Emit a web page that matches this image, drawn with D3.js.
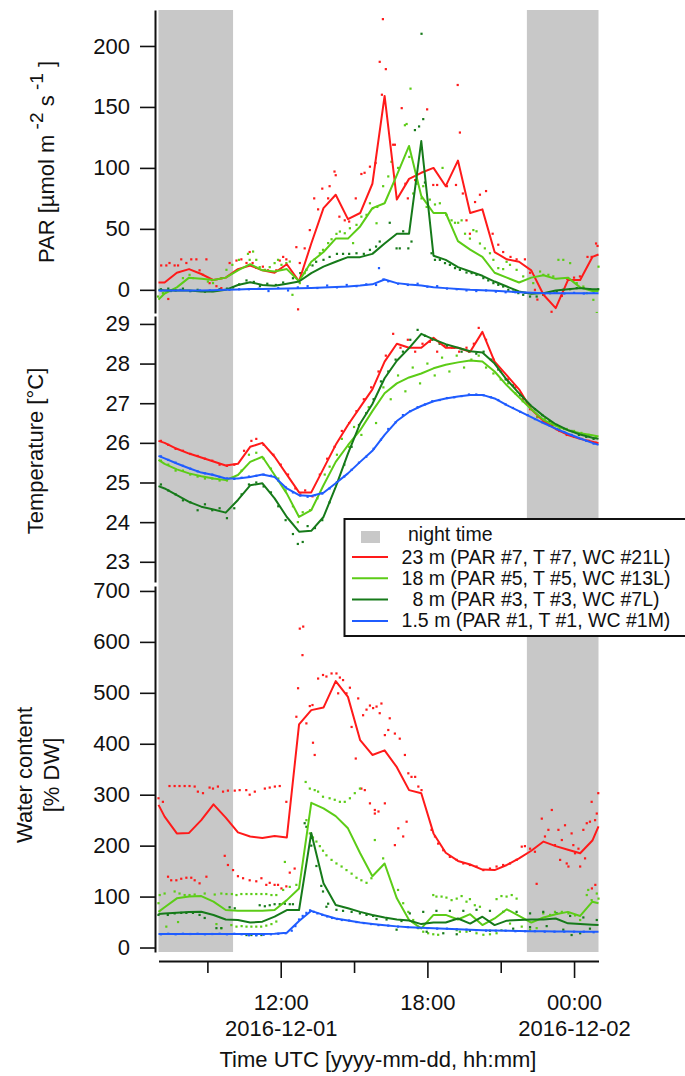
<!DOCTYPE html>
<html>
<head>
<meta charset="utf-8">
<script src="https://cdn.jsdelivr.net/npm/d3@7"></script>
<style>
  body { margin: 0; background: #fff; }
  svg text { font-family: "Liberation Sans", Arial, Helvetica, sans-serif; fill: #111; }
</style>
</head>
<body>
<svg id="chart" width="685" height="1076"></svg>
<script>
// ---------------------------------------------------------------------------
// Canopy profile, 2016-12-01 07:00 UTC to 2016-12-02 01:00 UTC.
// Times are decimal hours counted from 2016-12-01 00:00 UTC.
// Solid lines: 30-minute averages; dots: individual sensor readings.
// ---------------------------------------------------------------------------

// time stamps of the 30-minute averages (plus the window edges)
const avgHours = [7, ...d3.range(7.25, 25, 0.5), 25];

// night periods (sun below horizon), hours UTC
const nightBands = [[7, 10.05], [22.07, 25]];

const seriesLabels = [
  "23 m (PAR #7, T #7, WC #21L)",
  "18 m (PAR #5, T #5, WC #13L)",
  "8 m (PAR #3, T #3, WC #7L)",
  "1.5 m (PAR #1, T #1, WC #1M)"
];
const nightLabel = "night time";

// ---- PAR [µmol m-2 s-1] ----------------------------------------------------
const parTicks = [0, 50, 100, 150, 200];
const par23  = [6, 6,14,17,13,8,10,17,20,16,14,21,7, 38,67,78,58,63,87,159,74,91,96, 100,85,106,63,66,31,25,23,16,-4,-15,8,8,27, 29];
const par18  = [-8, -3,2,10,9,8,10,16,21,16,15,17,7, 23,31,42,42,52,67,71,94,118,77, 63,63,40,33,27,14,10,6,10,12,9,10,2,-1, -1];
const par8   = [0, -0.5,-0.5,-0.5,-1.4,-1.4,0,4,6.3,4,3.3,5,6.8, 13.7,19,23,26.8,26.8,29.5,38,46,46,122, 28,24.6,18.6,15,11.5,6.8,2.7,-1.4,-3.3,-2.7,-0.5,0.5,1.4,0.5, 0.5];
const par1_5 = [-0.5, -0.5,-0.5,-0.5,-0.5,-0.3,0,0.3,0.6,0.6,0.8,1,1.2, 1.6,2,2.4,2.8,3.5,4.5,8.5,5.5,4.3,3.5, 2.2,1.4,0.7,0,-0.4,-0.8,-1.3,-1.9,-2.3,-2.7,-2.7,-2.7,-2.7,-2.7, -2.7];

const par23Raw = [[7.11,20],[7.32,20],[7.4,-7.5],[7.45,22],[7.66,20],[7.8,20],[7.93,25],[8.14,22],[8.34,25],[8.55,25],[8.68,16],[8.96,25],[9.09,5.5],[9.2,8],[9.37,3],[9.57,1.4],[9.91,22],[10.19,24],[10.39,25],[10.6,22],[10.73,31],[10.85,22],[11.0,18],[11.27,19],[11.48,16],[11.82,16],[11.96,24],[12.1,27],[12.23,25],[12.64,35],[12.71,-16],[12.78,22],[12.98,34],[13.19,49],[13.37,75],[13.53,66],[13.7,83],[13.94,75],[14.0,85],[14.2,97],[14.25,94],[14.4,60],[14.62,57],[14.8,56],[15.07,75],[15.3,95],[15.43,96],[15.65,101],[15.88,104],[16.05,187],[16.14,160],[16.18,222],[16.3,181],[16.6,119],[16.67,119],[16.95,149],[17.1,87],[17.2,75],[17.5,90],[17.99,148],[18.24,86],[18.4,86],[18.8,85],[19.17,86],[19.24,168],[19.33,129],[19.45,79],[19.6,57],[19.74,46],[19.95,72],[20.15,78],[20.4,81],[20.67,46],[20.9,37],[21.1,31],[21.4,27],[21.65,25],[21.99,25],[22.2,14],[22.4,0],[22.5,-8],[22.74,-3],[23.08,-18],[23.5,-5],[23.72,9],[24.0,10],[24.24,11],[24.55,27],[24.72,27],[24.9,38],[24.96,36]];
const par18Raw = [[6.98,-5.5],[7.18,-2.7],[8.0,9.6],[8.27,12.3],[8.41,9.6],[8.82,12.3],[9.02,6.8],[9.23,5.5],[9.57,9.6],[9.78,16.4],[10.02,20.5],[10.29,24.6],[10.66,29.5],[10.73,24.6],[10.87,31.4],[11.0,24.6],[11.14,18.6],[11.35,16.4],[11.55,18.6],[11.75,21.9],[11.89,24.6],[12.03,20.5],[12.23,21.9],[12.37,23.2],[12.48,-4.1],[12.78,5.5],[12.98,13.7],[13.19,20.5],[13.39,25],[13.6,30],[13.73,32.8],[13.94,38.3],[14.08,41.5],[14.28,45.9],[14.42,47.8],[14.62,46.4],[14.83,50.5],[14.96,38.3],[15.1,53.3],[15.3,60],[15.51,61.5],[15.65,71],[15.78,67],[15.92,54.6],[15.95,68],[16.19,85],[16.4,93],[16.53,105],[16.8,100],[17.08,135],[17.15,136],[17.31,165],[17.26,109],[17.42,79],[17.56,87],[17.76,75],[17.83,85],[17.97,68],[18.1,74],[18.31,70],[18.51,71],[18.62,100],[18.78,61.5],[18.99,57],[19.13,55],[19.26,55],[19.4,57],[19.54,46],[19.74,42],[19.88,49],[20.01,48],[20.15,38],[20.35,34],[20.56,30],[20.7,24.6],[20.9,17.8],[21.1,17],[21.24,23],[21.38,20.5],[21.65,16.4],[21.92,11],[22.33,5.5],[22.61,15],[22.74,12.3],[22.95,12.3],[23.15,11],[23.36,24.6],[23.56,24.6],[23.84,21.9],[24.11,5.5],[24.38,2.7],[24.52,-2.7],[24.79,-8.2],[24.93,-19],[25.0,19]];
const par8Raw = [[7.1,0.5],[7.4,1],[7.7,-0.5],[8.0,1],[8.3,-1],[8.6,0],[8.9,-1.5],[9.2,-1],[9.5,0.5],[9.8,1],[10.05,2],[10.3,4.5],[10.6,7.7],[10.9,6.5],[11.15,3],[11.45,5],[11.8,4],[12.1,6],[12.5,9.5],[12.8,13.7],[13.05,16.4],[13.3,20],[13.45,23],[13.75,24.6],[14.0,27],[14.3,29.5],[14.55,29.5],[14.8,29.5],[15.1,30],[15.4,29.5],[15.65,32.8],[15.9,35.5],[16.05,39.6],[16.46,55],[16.74,34],[16.87,34],[17.01,48],[17.22,34],[17.35,39.6],[17.49,131],[17.66,134],[17.76,210],[17.83,140],[17.9,88],[18.17,30],[18.31,24.6],[18.51,24.6],[18.72,21.9],[18.92,20.5],[19.13,17.8],[19.33,16.4],[19.6,14.2],[19.81,13.7],[20.01,12.3],[20.29,9.6],[20.49,7.7],[20.7,5.5],[20.9,4.1],[21.1,2.7],[21.31,0],[21.51,-1.4],[21.72,-2.7],[21.92,-4.1],[22.2,-5.5],[22.47,-5.5],[22.74,-4.1],[23.02,-2.7],[23.29,-1.4],[23.56,0],[23.84,0.5],[24.11,1.4],[24.38,1.4],[24.65,0.5],[24.99,0.5]];
const par1_5Raw = [[7.1,-0.5],[7.5,-1],[7.9,0],[8.3,-1],[8.7,-0.5],[9.1,-0.5],[9.5,0],[9.9,0],[10.3,0.5],[10.7,0.5],[11.1,1],[11.5,-1],[11.9,1.5],[12.3,-0.5],[12.7,2],[13.1,3],[13.5,1.5],[13.9,3.5],[14.3,2],[14.7,4],[15.1,3],[15.5,4.5],[15.9,4],[16.02,17.8],[16.2,8.5],[16.4,7],[16.8,5],[17.2,4],[17.6,5],[18.0,2.5],[18.4,3],[18.8,1],[19.2,0.5],[19.6,-0.5],[20.0,-1],[20.4,-0.5],[20.8,-1.5],[21.2,-2],[21.6,-2],[22.0,-2.5],[22.4,-2.5],[22.8,-3],[23.2,-2.5],[23.6,-3],[24.0,-2.5],[24.4,-3],[24.8,-2.5]];

// ---- Temperature [°C] ------------------------------------------------------
const tTicks = [23, 24, 25, 26, 27, 28, 29];
const t23  = [26.05, 26.0,25.85,25.73,25.63,25.53,25.43,25.47,25.9,26.0,25.65,25.2,24.75, 24.75,25.35,25.95,26.45,26.9,27.35,28.05,28.5,28.4,28.4, 28.65,28.4,28.4,28.3,28.8,28.05,27.7,27.35,26.85,26.55,26.35,26.2,26.1,26.03, 25.99];
const t18  = [25.57, 25.47,25.33,25.23,25.16,25.1,25.06,25.19,25.52,25.65,25.19,24.72,24.13, 24.3,24.93,25.52,25.94,26.32,26.8,27.25,27.5,27.65,27.75, 27.88,27.97,28.03,28.08,28.05,27.8,27.45,27.15,26.85,26.58,26.43,26.32,26.24,26.19, 26.16];
const t8   = [24.91, 24.85,24.68,24.51,24.39,24.32,24.24,24.56,24.93,24.98,24.6,24.13,23.76, 23.78,24.13,24.89,25.73,26.49,26.98,27.63,28.07,28.39,28.75, 28.61,28.49,28.4,28.31,28.28,28.0,27.59,27.25,26.93,26.68,26.47,26.32,26.21,26.13, 26.1];
const t1_5 = [25.67, 25.61,25.48,25.36,25.25,25.19,25.1,25.1,25.14,25.2,25.14,24.85,24.68, 24.66,24.74,24.98,25.23,25.52,25.8,26.2,26.55,26.78,26.93, 27.05,27.12,27.17,27.21,27.21,27.12,26.95,26.8,26.65,26.5,26.36,26.23,26.11,26.0, 25.95];

const t23Raw = [[7.1,26.05],[7.4,25.95],[7.7,25.85],[8.0,25.8],[8.3,25.72],[8.6,25.67],[8.9,25.6],[9.2,25.55],[9.5,25.45],[9.8,25.42],[10.1,25.45],[10.5,25.8],[10.8,26.05],[11.0,26.1],[11.3,25.95],[11.7,25.7],[12.0,25.45],[12.3,25.2],[12.6,24.85],[12.8,24.7],[13.0,24.8],[13.3,24.65],[13.6,25.2],[13.9,25.6],[14.2,25.9],[14.5,26.3],[14.8,26.5],[15.1,26.8],[15.4,27.1],[15.7,27.4],[16.0,27.8],[16.3,28.2],[16.6,28.75],[16.9,28.4],[17.2,28.6],[17.5,28.3],[17.8,28.5],[18.1,28.55],[18.4,28.3],[18.7,28.45],[19.0,28.4],[19.3,28.3],[19.6,28.4],[19.9,28.5],[20.1,28.9],[20.4,28.6],[20.7,28.1],[21.0,27.8],[21.3,27.6],[21.6,27.4],[21.9,27.1],[22.2,26.85],[22.5,26.65],[22.8,26.5],[23.1,26.45],[23.4,26.3],[23.7,26.2],[24.0,26.15],[24.3,26.1],[24.6,26.05],[24.9,26.0]];
const t18Raw = [[7.1,25.55],[7.4,25.45],[7.7,25.3],[8.0,25.3],[8.3,25.2],[8.6,25.15],[8.9,25.1],[9.2,25.1],[9.5,25.05],[9.8,25.05],[10.1,25.1],[10.4,25.3],[10.7,25.7],[11.0,25.75],[11.3,25.6],[11.6,25.35],[11.9,25.1],[12.2,24.8],[12.5,24.4],[12.7,24.0],[12.9,24.25],[13.2,24.3],[13.5,24.6],[13.8,25.2],[14.0,25.4],[14.3,25.7],[14.5,26.1],[14.8,25.9],[15.0,26.4],[15.3,26.2],[15.6,26.9],[15.9,26.5],[16.2,27.4],[16.5,27.1],[16.8,27.7],[17.1,27.3],[17.4,27.9],[17.7,27.5],[18.0,28.0],[18.3,27.7],[18.6,28.15],[18.9,27.8],[19.2,28.2],[19.5,27.9],[19.8,28.1],[20.1,28.2],[20.4,27.9],[20.7,27.75],[21.0,27.6],[21.3,27.5],[21.6,27.25],[21.9,27.05],[22.2,26.95],[22.5,26.65],[22.8,26.6],[23.1,26.5],[23.4,26.35],[23.7,26.35],[24.0,26.3],[24.3,26.25],[24.6,26.2],[24.9,26.15]];
const t8Raw = [[7.1,24.95],[7.4,24.8],[7.7,24.7],[8.0,24.55],[8.3,24.5],[8.6,24.3],[8.9,24.45],[9.2,24.3],[9.5,24.35],[9.8,24.1],[10.1,24.35],[10.4,24.7],[10.7,24.95],[11.0,25.0],[11.3,24.9],[11.6,24.75],[11.9,24.4],[12.2,24.05],[12.5,23.7],[12.7,23.45],[12.9,23.5],[13.1,23.9],[13.4,23.85],[13.7,24.05],[14.0,24.5],[14.3,25.0],[14.6,25.45],[14.9,25.9],[15.2,26.45],[15.5,26.75],[15.8,27.1],[16.1,27.55],[16.4,27.8],[16.7,28.1],[17.0,28.3],[17.3,28.6],[17.6,28.85],[17.9,28.7],[18.2,28.6],[18.5,28.5],[18.8,28.45],[19.1,28.4],[19.4,28.3],[19.7,28.3],[20.0,28.25],[20.3,28.3],[20.6,28.1],[20.9,27.85],[21.2,27.6],[21.5,27.45],[21.8,27.2],[22.1,27.0],[22.4,26.85],[22.7,26.7],[23.0,26.55],[23.3,26.45],[23.6,26.35],[23.9,26.3],[24.2,26.2],[24.5,26.15],[24.8,26.1]];
const t1_5Raw = [[7.1,25.66],[7.4,25.57],[7.7,25.5],[8.0,25.42],[8.3,25.35],[8.6,25.28],[8.9,25.23],[9.2,25.2],[9.5,25.14],[9.8,25.1],[10.1,25.09],[10.4,25.12],[10.7,25.15],[11.0,25.17],[11.3,25.2],[11.6,25.17],[11.9,25.05],[12.2,24.88],[12.5,24.75],[12.8,24.67],[13.1,24.64],[13.4,24.68],[13.7,24.72],[14.0,24.85],[14.3,25.0],[14.6,25.15],[14.9,25.32],[15.2,25.5],[15.5,25.65],[15.8,25.85],[16.1,26.08],[16.4,26.35],[16.7,26.52],[17.0,26.7],[17.3,26.8],[17.6,26.9],[17.9,26.97],[18.2,27.05],[18.5,27.08],[18.8,27.13],[19.1,27.15],[19.4,27.18],[19.7,27.22],[20.0,27.22],[20.3,27.2],[20.6,27.15],[20.9,27.08],[21.2,26.97],[21.5,26.88],[21.8,26.78],[22.1,26.7],[22.4,26.6],[22.7,26.52],[23.0,26.44],[23.3,26.35],[23.6,26.27],[23.9,26.2],[24.2,26.12],[24.5,26.05],[24.8,25.98]];

// ---- Water content [% DW] --------------------------------------------------
const wcTicks = [0, 100, 200, 300, 400, 500, 600, 700];
const wc23  = [280, 257,224,225,250,281,255,226,218,215,219,216,438, 466,471,523,492,407,378,387,354,309,303, 224,186,170,163,153,152,162,175,190,208,199,192,185,210, 238];
const wc18  = [70, 79,96.5,100,101,90,73.6,72,72,72,73.6,93,116, 284,273,258,234,185,140,165,96.5,54,37.6, 64,64,55,65.4,44,57,75,62,49,59,65.4,70,62,90, 87];
const wc8   = [65.8, 67,68.4,69.7,70.3,63.8,55,54,49,50.7,60.5,73.6,73.6, 225,126,83.4,77,70,64,59,55,53,46, 49,49,57,47,60.5,44,52.7,54,55,55,57,47.4,46,44.8, 44];
const wc1_5 = [26.5, 26.5,26.5,26.5,26.5,26.5,26.5,26.5,26.5,26.5,27,29,52, 72,64,57,53,49,46,43.5,41.5,40,39, 38,37,36,35,34,33.5,33,32.5,32,32,31.5,31.5,31,31, 31];

const wc23Raw = [[7.0,293],[7.18,286],[7.45,317],[7.66,317],[7.86,317],[8.07,317],[8.27,317],[8.48,316],[8.61,306],[8.82,303],[9.09,314],[9.23,312],[9.43,316],[9.64,306],[9.84,308],[10.12,308],[10.32,309],[10.59,309],[10.73,300],[10.94,306],[11.35,312],[11.55,314],[11.76,316],[11.96,317],[12.23,286],
  [7.39,139],[7.52,132],[7.73,132],[7.93,135],[8.14,137],[8.34,137],[8.48,132],[8.68,126],[8.96,139],[9.71,180],[9.84,162],[10.05,152],[10.25,140],[10.46,136],[10.73,132],[11.0,130],[11.21,136],[11.41,123],[11.55,127],[11.75,123],[11.89,123],[12.03,116],[12.23,120],[12.37,147],[12.57,155],
  [12.64,453],[12.71,509],[12.78,626],[12.92,630],[12.89,574],[13.05,440],[13.19,474],[13.3,476],[13.32,402],[13.39,378],[13.53,528],[13.73,535],[13.87,532],[14.08,538],[14.28,538],[14.42,530],[14.55,525],[14.35,499],[14.69,499],[14.83,510],[14.9,433],[15.07,371],[15.17,489],[15.37,456],[15.51,467],[15.65,475],[15.78,470],[15.92,473],[16.05,460],[15.3,312],[15.44,309],[15.65,283],[15.85,270],[16.0,267],
  [16.12,479],[16.26,417],[16.4,427],[16.46,450],[16.67,420],[16.87,410],[17.08,378],[17.22,342],[17.35,335],[17.5,335],[17.63,316],[17.76,309],[15.85,263],[16.26,283],[16.81,234],[17.01,218],[17.15,247],[16.67,201],[18.17,231],[18.31,218],[18.44,204],[18.65,191],[18.92,178],[19.2,172],[19.47,165],[19.74,162],[20.01,159],[20.29,152],[20.56,155],[20.83,159],[21.1,162],[21.38,165],[21.65,172],[21.86,198],[21.99,199],[22.2,194],[22.4,188],[22.47,125],[22.68,253],[22.81,218],[22.95,231],[23.09,270],[23.22,201],[23.36,231],[23.43,172],[23.5,211],[23.63,240],[23.7,165],[23.77,159],[23.9,224],[23.97,201],[24.04,185],[24.18,194],[24.25,159],[24.38,231],[24.45,175],[24.52,244],[24.65,247],[24.72,286],[24.86,250],[24.93,263],[24.99,303],[24.73,116],[24.87,123]];
const wc18Raw = [[7.0,87],[7.05,103],[7.25,106],[7.66,110],[7.86,106],[8.07,103],[8.27,103],[8.48,104],[8.89,106],[9.3,104],[9.57,106],[9.78,105],[10.0,105],[10.19,103],[10.39,105],[10.6,105],[10.8,105],[11.0,105],[11.21,105],[11.41,105],[11.62,103],[11.82,103],[12.1,113],[12.17,168],[12.37,119],[12.64,123],
  [7.32,41],[7.8,50],[9.37,46],[9.57,38],[9.98,44],[10.19,41],[10.4,42],[10.6,41],[10.8,41],[11.0,41],[11.2,41],[11.41,43],[11.62,46],[11.82,51],
  [13.02,325],[13.05,250],[13.19,312],[13.39,309],[13.53,306],[13.73,296],[14.0,293],[14.21,290],[14.42,286],[14.62,286],[14.83,293],[15.03,303],[15.24,312],[13.19,224],[13.32,216],[13.46,208],[13.6,199],[13.73,190],[13.87,181],[14.08,172],[14.28,165],[14.49,159],[14.69,152],[14.9,145],[15.1,137],[15.3,132],[15.51,127],[15.71,136],[15.85,211],[16.19,175],[16.8,113],[17.01,87],[17.22,70],[17.42,54],[17.63,38],[17.83,31],[18.03,28],[18.24,26],[18.44,25],[18.24,103],[18.37,100],[18.58,100],[18.78,98],[18.99,93],[19.2,96],[19.4,101],[19.6,90],[19.74,95],[19.94,83],[20.15,80],[19.2,34],[19.33,31],[19.6,31],[20.01,28],[20.29,25],[20.56,26],[20.83,28],[21.03,34],[20.83,95],[21.03,101],[21.24,100],[21.45,103],[21.65,96],[21.38,47],[21.86,41],[22.2,35],[22.47,38],[22.74,67],[23.02,64],[23.22,70],[23.5,70],[23.77,67],[24.04,63],[24.25,54],[24.52,103],[24.58,113],[24.72,93],[24.93,106],[25.0,96]];
const wc8Raw = [[7.0,64],[7.38,64],[7.66,67],[7.93,68],[8.14,68],[8.41,68],[8.68,64],[8.89,58],[9.37,38],[9.57,38],[9.91,79],[10.12,77],[10.6,24.5],[10.8,24.5],[11.0,24.5],[11.21,24.5],[11.14,83],[11.35,81],[11.55,83],[11.75,85],[11.96,85],[12.17,86],[12.37,85],[12.5,85],[12.98,244],[13.05,237],[13.25,200],[13.46,160],[13.66,121],[13.73,110],[13.87,80],[13.94,86],[14.28,74],[14.55,72],[14.9,70],[15.24,67],[15.51,64],[15.78,62],[15.92,56],[16.33,55],[16.94,52],[17.28,67],[17.83,70],[18.37,72],[18.92,72],[19.47,72],[20.01,74],[20.56,72],[21.1,70],[21.65,70],[22.2,67],[22.74,70],[23.29,67],[23.84,62],[24.38,59],[24.93,54],[16.74,35],[17.97,31],[18.65,28],[19.2,26],[19.74,33],[20.56,33],[21.51,37],[22.2,40],[22.88,42],[23.56,35],[23.9,24.5],[24.25,28],[24.65,37]];
const wc1_5Raw = [[7.1,26],[7.4,27],[7.7,26],[8.0,27],[8.3,26.5],[8.6,27],[8.9,26],[9.2,26.5],[9.5,27],[9.8,26],[10.1,27],[10.4,26],[10.7,24],[11.0,24],[11.3,25],[11.6,26],[11.9,27],[12.2,28],[12.45,33],[12.6,42],[12.75,55],[12.9,62],[13.05,68],[13.2,73],[13.35,70],[13.5,67],[13.7,64],[13.9,61],[14.1,58],[14.3,56],[14.5,54],[14.8,53],[15.1,50],[15.4,48],[15.7,46],[16.0,44],[16.4,43],[16.8,41],[17.2,40],[17.6,39],[18.0,38],[18.4,37],[18.8,37],[19.2,36],[19.6,35],[20.0,34],[20.4,33],[20.8,33],[21.2,33],[21.6,32],[22.0,32],[22.4,32],[22.8,31],[23.2,31],[23.6,31],[24.0,31],[24.4,31],[24.8,30]];

// ---------------------------------------------------------------------------
const colors = ["#ff1a1a", "#5ccc17", "#167a1a", "#1f5cff"];
const nightColor = "#c8c8c8";

const svg = d3.select("#chart");
const base = Date.UTC(2016, 11, 1);
const toDate = h => new Date(base + h * 3600e3);

const x = d3.scaleUtc()
  .domain([toDate(7), toDate(25)])
  .range([158.5, 598.5]);
const axisX = 155;

// stacked panels: value domain and vertical extent on the page
const panels = [
  { lines: [par23, par18, par8, par1_5], raw: [par23Raw, par18Raw, par8Raw, par1_5Raw],
    domain: [-19, 229.5], top: 10, bottom: 313, ticks: parTicks, fmt: d3.format("d") },
  { lines: [t23, t18, t8, t1_5], raw: [t23Raw, t18Raw, t8Raw, t1_5Raw],
    domain: [22.49, 29.2], top: 316, bottom: 582, ticks: tTicks, fmt: d3.format("d") },
  { lines: [wc23, wc18, wc8, wc1_5], raw: [wc23Raw, wc18Raw, wc8Raw, wc1_5Raw],
    domain: [-8.8, 709.7], top: 586, bottom: 952, ticks: wcTicks, fmt: d3.format("d") }
];

// night shading across all panels
svg.append("g").selectAll("rect").data(nightBands).join("rect")
  .attr("x", d => x(toDate(d[0])))
  .attr("width", d => x(toDate(d[1])) - x(toDate(d[0])))
  .attr("y", panels[0].top)
  .attr("height", panels[2].bottom - panels[0].top)
  .attr("fill", nightColor);

const defs = svg.append("defs");

panels.forEach((p, idx) => {
  const y = d3.scaleLinear().domain(p.domain).range([p.bottom, p.top]);

  const clipId = "plot-clip-" + idx;
  defs.append("clipPath").attr("id", clipId).append("rect")
    .attr("x", x.range()[0] - 2).attr("y", p.top)
    .attr("width", x.range()[1] - x.range()[0] + 4)
    .attr("height", p.bottom - p.top);
  const plot = svg.append("g").attr("clip-path", `url(#${clipId})`);

  // raw readings
  p.raw.forEach((pts, s) => {
    plot.append("g").attr("fill", colors[s])
      .selectAll("rect").data(pts).join("rect")
      .attr("x", d => x(toDate(d[0])) - 1.1)
      .attr("y", d => y(d[1]) - 1.1)
      .attr("width", 2.2).attr("height", 2.2);
  });

  // 30-minute averages
  const line = d3.line()
    .x((d, i) => x(toDate(avgHours[i])))
    .y(d => y(d));
  p.lines.forEach((vals, s) => {
    plot.append("path").datum(vals)
      .attr("fill", "none")
      .attr("stroke", colors[s])
      .attr("stroke-width", 2)
      .attr("stroke-linejoin", "round")
      .attr("d", line);
  });

  // y axis
  const ag = svg.append("g").attr("transform", `translate(${axisX},0)`);
  ag.call(d3.axisLeft(y).tickValues(p.ticks).tickFormat(p.fmt)
    .tickSize(15).tickPadding(10).tickSizeOuter(0));
  ag.select(".domain").attr("stroke", "#111").attr("stroke-width", 2);
  ag.selectAll(".tick line").attr("stroke", "#111").attr("stroke-width", 1.6);
  ag.selectAll(".tick text").attr("font-size", 22).attr("fill", "#111");
});

// x axis
const xg = svg.append("g").attr("transform", "translate(0,961)");
const fmtTime = d3.utcFormat("%H:%M");
const fmtDate = d3.utcFormat("%Y-%m-%d");
xg.call(d3.axisBottom(x).ticks(d3.utcHour.every(3)).tickSize(17).tickSizeOuter(0).tickFormat(() => ""));
xg.select(".domain").attr("stroke", "#111").attr("stroke-width", 2);
xg.selectAll(".tick line").attr("stroke", "#111").attr("stroke-width", 1.6)
  .attr("y2", d => d.getUTCHours() % 6 === 0 ? 17 : 12);
let firstLabel = true;
xg.selectAll(".tick").each(function (d) {
  if (d.getUTCHours() % 6 !== 0) return;
  const t = d3.select(this).select("text")
    .attr("font-size", 22).attr("fill", "#111").attr("y", 0).attr("dy", null);
  t.append("tspan").attr("x", 0).attr("y", 49).text(fmtTime(d));
  if (firstLabel || d.getUTCHours() === 0) {
    t.append("tspan").attr("x", 0).attr("y", 75).text(fmtDate(d));
  }
  firstLabel = false;
});

svg.append("text")
  .attr("x", 378).attr("y", 1067)
  .attr("text-anchor", "middle").attr("font-size", 22)
  .text("Time UTC [yyyy-mm-dd, hh:mm]");

// y axis titles
const parTitle = svg.append("text")
  .attr("transform", "translate(54,162) rotate(-90)")
  .attr("text-anchor", "middle").attr("font-size", 22);
parTitle.append("tspan").text("PAR [µmol m");
parTitle.append("tspan").attr("dy", -11).attr("font-size", 19).text(" -2");
parTitle.append("tspan").attr("dy", 11).text(" s");
parTitle.append("tspan").attr("dy", -11).attr("font-size", 19).text(" -1");
parTitle.append("tspan").attr("dy", 11).text(" ]");

svg.append("text")
  .attr("transform", "translate(43,451) rotate(-90)")
  .attr("text-anchor", "middle").attr("font-size", 22)
  .text("Temperature [°C]");

const wcTitle = svg.append("text")
  .attr("transform", "translate(32,775) rotate(-90)")
  .attr("text-anchor", "middle").attr("font-size", 22);
wcTitle.append("tspan").attr("x", 0).attr("y", 0).text("Water content");
wcTitle.append("tspan").attr("x", 0).attr("y", 27).text("[% DW]");

// legend
const lg = svg.append("g");
lg.append("rect")
  .attr("x", 344.5).attr("y", 519).attr("width", 380).attr("height", 117)
  .attr("fill", "#fff").attr("stroke", "#111").attr("stroke-width", 2);
lg.append("rect")
  .attr("x", 361).attr("y", 531).attr("width", 19).attr("height", 12)
  .attr("fill", nightColor);
lg.append("text").attr("x", 408).attr("y", 541).attr("font-size", 19.5).text(nightLabel);
seriesLabels.forEach((label, i) => {
  const yy = 557 + 21.3 * i;
  lg.append("line").attr("x1", 352).attr("x2", 388).attr("y1", yy).attr("y2", yy)
    .attr("stroke", colors[i]).attr("stroke-width", 2);
  lg.append("text").attr("x", 536).attr("y", yy + 6.5)
    .attr("text-anchor", "middle").attr("font-size", 19.5).text(label);
});
</script>
</body>
</html>
